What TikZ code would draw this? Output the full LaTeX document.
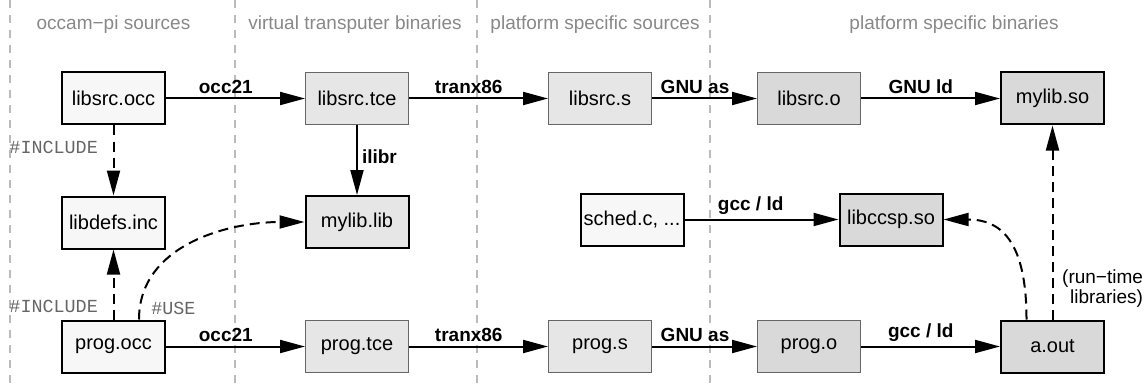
\documentclass[tikz,border=0pt]{standalone}
\usepackage{fontspec}
\setmainfont{Liberation Sans}
\setmonofont{Liberation Mono}
\usepackage{xcolor}
\usepackage{tikz}
\usetikzlibrary{positioning}
\usetikzlibrary{arrows.meta}

\definecolor{srcgray}{HTML}{F7F7F7}
\definecolor{vtgray}{HTML}{E6E6E6}
\definecolor{objgray}{HTML}{D9D9D9}
\definecolor{headgray}{HTML}{888888}
\definecolor{sepgray}{HTML}{BBBBBB}

\begin{document}
\begin{tikzpicture}[x=0.5pt, y=-0.5pt, node distance=35pt and 69.5pt,
  file/.style={draw, minimum width=51.5pt, minimum height=26pt, inner sep=0pt, font=\fontsize{10}{12}\selectfont},
  srcfile/.style={file, fill=srcgray, line width=1pt},
  libfile/.style={file, line width=1pt},
  tmpfile/.style={file, draw=black!60, line width=0.5pt},
  tool/.style={line width=1pt, -{Triangle[length=12.5pt,width=6.5pt]}},
  dep/.style={tool, dash pattern=on 5pt off 3pt},
  toolname/.style={font=\fontsize{9.5}{11}\selectfont\bfseries, inner sep=2pt},
  directive/.style={font=\fontsize{9.2}{11}\selectfont\ttfamily, text=black!60},
  header/.style={font=\fontsize{9.5}{11}\selectfont, text=headgray}]

\useasboundingbox (0,0) rectangle (1145,390);

% column separators and headings
\foreach \sx in {10,235,477,710}
  \draw [sepgray, line width=0.6pt, dash pattern=on 4pt off 3.5pt] (\sx,0) -- (\sx,390);
\node (hdoccam) [header] at (113.5,25) {occam−pi sources};
\node (hdvt) [header] at (355,25) {virtual transputer binaries};
\node (hdpsrc) [header] at (595,25) {platform specific sources};
\node (hdpbin) [header] at (954,25) {platform specific binaries};

% library row
\node (libsrcocc) [srcfile] at (113.5,98.5) {libsrc.occ};
\node (libsrctce) [right=of libsrcocc, tmpfile, fill=vtgray] {libsrc.tce};
\node (libsrcs) [right=of libsrctce, tmpfile, fill=vtgray] {libsrc.s};
\node (libsrco) [right=52.5pt of libsrcs, tmpfile, fill=objgray] {libsrc.o};
\node (mylibso) [right=of libsrco, libfile, fill=objgray] {mylib.so};

% middle row
\node (libdefs) [below=of libsrcocc, srcfile] {libdefs.inc};
\node (myliblib) [below=of libsrctce, libfile, fill=vtgray] {mylib.lib};
\node (sched) [srcfile] at (632,219.5) {sched.c, ...};
\node (libccsp) [libfile, fill=objgray] at (891,219.5) {libccsp.so};

% program row
\node (progocc) [below=of libdefs, srcfile] {prog.occ};
\node (progtce) [right=of progocc, tmpfile, fill=vtgray] {prog.tce};
\node (progs) [right=of progtce, tmpfile, fill=vtgray] {prog.s};
\node (progo) [right=52.5pt of progs, tmpfile, fill=objgray] {prog.o};
\node (aout) [right=of progo, libfile, fill=objgray] {a.out};

\draw [tool] (libsrcocc.east) -- (libsrctce.west) node [pos=0.43, above, toolname] {occ21};
\draw [tool] (libsrctce.east) -- (libsrcs.west) node [pos=0.43, above, toolname] {tranx86};
\draw [tool] (libsrcs.east) -- (libsrco.west) node [pos=0.41, above, toolname] {GNU as};
\draw [tool] (libsrco.east) -- (mylibso.west) node [pos=0.43, above, toolname] {GNU ld};
\draw [tool] (libsrctce.south) -- (myliblib.north) node [pos=0.45, right, toolname] {ilibr};
\draw [dep] (libsrcocc.south) -- (libdefs.north) node [pos=0.31, left=4pt, directive] {\#INCLUDE};

\draw [tool] (sched.east) -- (libccsp.west) node [pos=0.43, above, toolname] {gcc / ld};

\draw [tool] (progocc.east) -- (progtce.west) node [pos=0.43, above, toolname] {occ21};
\draw [tool] (progtce.east) -- (progs.west) node [pos=0.43, above, toolname] {tranx86};
\draw [tool] (progs.east) -- (progo.west) node [pos=0.41, above, toolname] {GNU as};
\draw [tool] (progo.east) -- (aout.west) node [pos=0.43, above, toolname] {gcc / ld};

\draw [dep] (progocc.north) -- (libdefs.south) node [pos=0.19, left=4pt, directive] {\#INCLUDE};
\draw [dep] ([xshift=12.75pt]progocc.north) to [out=90, in=180] node [pos=0.05, right=2pt, directive] {\#USE} (myliblib.west);
\draw [dep] ([xshift=-13pt]aout.north) .. controls +(0,-79) and +(57,0) .. (libccsp.east);
\draw [dep] (aout.north) -- (mylibso.south) node [pos=0.16, right=1pt, align=right, font=\fontsize{9.5}{10}\selectfont] {(run−time\\libraries)};

\end{tikzpicture}
\end{document}
